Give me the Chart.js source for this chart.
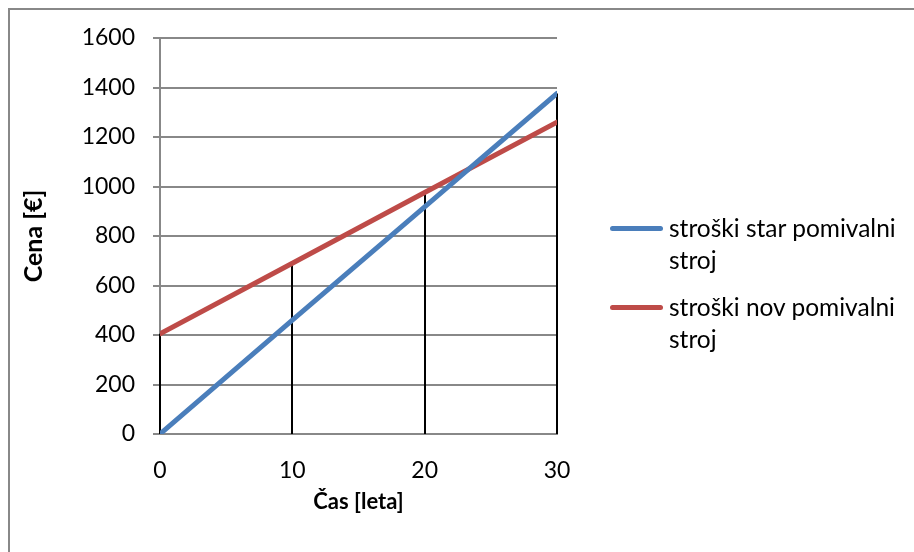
<!DOCTYPE html>
<html>
<head>
<meta charset="utf-8">
<script src="https://cdn.jsdelivr.net/npm/chart.js@4"></script>
<style>
  body { margin: 0; background: #fff; }
  #wrap { position: relative; width: 914px; height: 552px; overflow: hidden; }
  #frame { position: absolute; left: 8px; top: 8px; width: 1000px; height: 1000px; border: 2px solid #888; box-sizing: border-box; }
  canvas { position: absolute; left: 0; top: 0; }
  .legend { position: absolute; left: 610px; font-family: Lato, sans-serif; font-size: 24.5px; color: #000; line-height: 32px; }
  .legend .item { position: relative; padding-left: 59px; width: 240px; margin-bottom: 15px; }
  .legend .swatch { position: absolute; left: 0; top: 14px; width: 53px; height: 5px; border-radius: 3px; }
</style>
</head>
<body>
<div id="wrap">
  <div id="frame"></div>
  <canvas id="chart" width="914" height="552"></canvas>
  <div class="legend" id="legend" style="top:212px"></div>
</div>
<script>
"use strict";

// data
let years = [0, 10, 20, 30];
let costOld = [0, 460, 918, 1376];
let costNew = [405, 690, 976, 1260];
let seriesNames = ['stroški star pomivalni stroj', 'stroški nov pomivalni stroj'];
let seriesColors = ['#4a7ebb', '#be4b48'];

let axisFont = { family: 'Lato', size: 23 };

// drop lines: from the higher of the two series down to 0
const dropLines = {
  id: 'dropLines',
  beforeDatasetsDraw(chart) {
    let ctx = chart.ctx;
    let xs = chart.scales.x, ys = chart.scales.y;
    ctx.save();
    ctx.strokeStyle = '#000';
    ctx.lineWidth = 2;
    years.forEach((yr, i) => {
      let top = Math.max(costOld[i], costNew[i]);
      let px = Math.round(xs.getPixelForValue(yr));
      ctx.beginPath();
      ctx.moveTo(px, ys.getPixelForValue(0));
      ctx.lineTo(px, ys.getPixelForValue(top));
      ctx.stroke();
    });
    ctx.restore();
  }
};

let ctx = document.getElementById('chart');
let chart = new Chart(ctx, {
  type: 'line',
  data: {
    datasets: [
      {
        label: seriesNames[0],
        data: years.map((x, i) => ({ x: x, y: costOld[i] })),
        borderColor: seriesColors[0],
        borderWidth: 5,
        borderCapStyle: 'round',
        pointRadius: 0,
        tension: 0
      },
      {
        label: seriesNames[1],
        data: years.map((x, i) => ({ x: x, y: costNew[i] })),
        borderColor: seriesColors[1],
        borderWidth: 5,
        borderCapStyle: 'round',
        pointRadius: 0,
        tension: 0
      }
    ]
  },
  options: {
    responsive: false,
    animation: false,
    layout: { padding: { top: 38, right: 357, left: 0, bottom: 0 } },
    plugins: { legend: { display: false }, tooltip: { enabled: false } },
    scales: {
      x: {
        type: 'linear',
        min: 0, max: 30,
        afterFit(scale) { scale.height = 118; },
        ticks: { stepSize: 10, color: '#000', font: axisFont, padding: 23, callback: v => String(v) },
        grid: { display: false, drawTicks: false },
        border: { color: '#888', width: 2 },
        title: { display: true, text: 'Čas [leta]', color: '#000', font: { family: 'Lato', size: 22, weight: 'bold' }, padding: { bottom: 37 } }
      },
      y: {
        min: 0, max: 1600,
        afterFit(scale) { scale.width = 160; },
        ticks: { stepSize: 200, color: '#000', font: axisFont, padding: 18, callback: v => String(v) },
        grid: { color: '#888', lineWidth: 2, tickLength: 7 },
        border: { color: '#888', width: 2 },
        title: { display: true, text: 'Cena [€]', color: '#000', font: { family: 'Lato', size: 25, weight: 'bold' }, padding: { top: 19 } }
      }
    }
  },
  plugins: [dropLines]
});

// legend
let legend = document.getElementById('legend');
seriesNames.forEach((name, i) => {
  let item = document.createElement('div');
  item.className = 'item';
  let sw = document.createElement('span');
  sw.className = 'swatch';
  sw.style.background = seriesColors[i];
  item.append(sw);
  item.append(document.createTextNode(name));
  legend.append(item);
});
</script>
</body>
</html>
